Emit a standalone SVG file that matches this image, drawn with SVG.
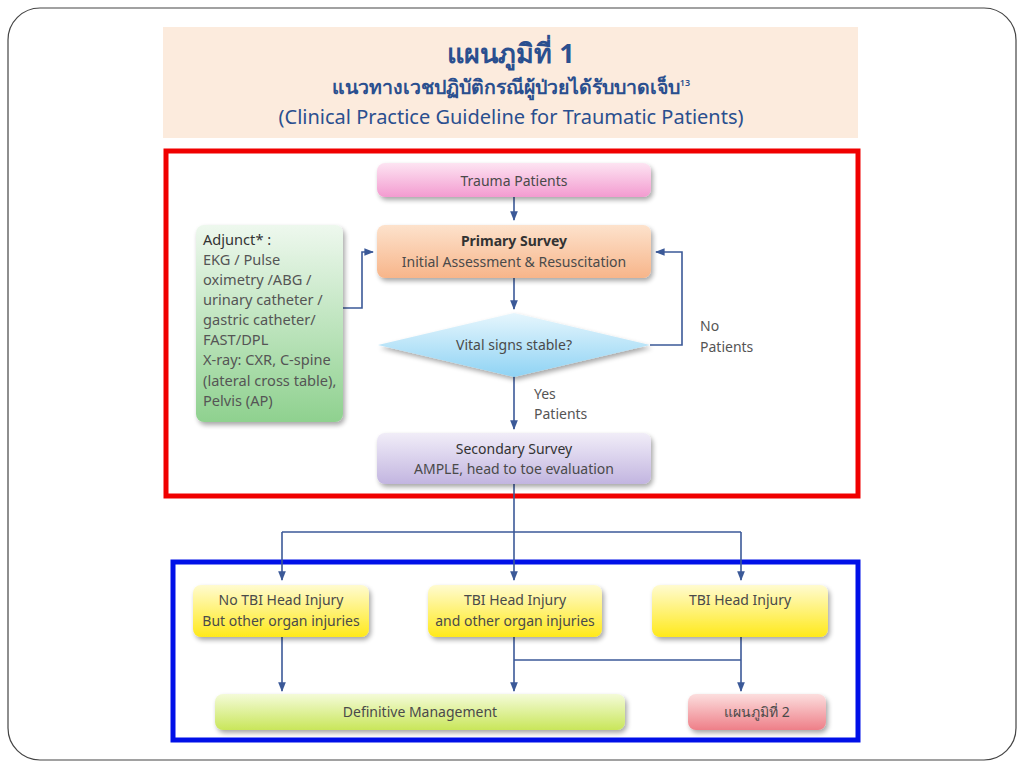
<svg xmlns="http://www.w3.org/2000/svg" width="1024" height="768" viewBox="0 0 1024 768">
<defs>
<style>
.t{font-family:"Noto Sans","DejaVu Sans",sans-serif;fill:#4a4a4a;font-size:14px;text-anchor:middle}
.tl{font-family:"Noto Sans","DejaVu Sans",sans-serif;fill:#555;font-size:14px}
.ta{font-family:"Noto Sans","DejaVu Sans",sans-serif;fill:#555;font-size:14.6px}
.b{font-weight:bold;fill:#333}
.hd{font-family:"Noto Sans","DejaVu Sans",sans-serif;fill:#2a4f8f;text-anchor:middle}
.c{fill:none;stroke:#3b5998;stroke-width:1.6}
</style>
<marker id="ar" viewBox="0 0 10 10" refX="9" refY="5" markerWidth="6" markerHeight="6" orient="auto"><path d="M0,1 L10,5 L0,9 z" fill="#3b5998"/></marker>
<filter id="sh" x="-10%" y="-20%" width="125%" height="150%"><feGaussianBlur in="SourceAlpha" stdDeviation="2.5"/><feOffset dx="2" dy="3"/><feComponentTransfer><feFuncA type="linear" slope="0.35"/></feComponentTransfer><feMerge><feMergeNode/><feMergeNode in="SourceGraphic"/></feMerge></filter>
<linearGradient id="gPink" x1="0" y1="0" x2="0" y2="1"><stop offset="0" stop-color="#fde4f2"/><stop offset="1" stop-color="#f39bd0"/></linearGradient>
<linearGradient id="gOr" x1="0" y1="0" x2="0" y2="1"><stop offset="0" stop-color="#fde2cc"/><stop offset="1" stop-color="#f7b58a"/></linearGradient>
<linearGradient id="gBlue" x1="0" y1="0" x2="0" y2="1"><stop offset="0" stop-color="#e6f6fd"/><stop offset="1" stop-color="#8fd3f4"/></linearGradient>
<linearGradient id="gLav" x1="0" y1="0" x2="0" y2="1"><stop offset="0" stop-color="#f1edf8"/><stop offset="1" stop-color="#c2b5e0"/></linearGradient>
<linearGradient id="gGr" x1="0" y1="0" x2="0" y2="1"><stop offset="0" stop-color="#eef8ee"/><stop offset="1" stop-color="#8fd18f"/></linearGradient>
<linearGradient id="gYel" x1="0" y1="0" x2="0" y2="1"><stop offset="0" stop-color="#fffbd0"/><stop offset="1" stop-color="#ffe91a"/></linearGradient>
<linearGradient id="gLime" x1="0" y1="0" x2="0" y2="1"><stop offset="0" stop-color="#f4fbd8"/><stop offset="1" stop-color="#c9e65a"/></linearGradient>
<linearGradient id="gRed" x1="0" y1="0" x2="0" y2="1"><stop offset="0" stop-color="#fcdede"/><stop offset="1" stop-color="#ee7f88"/></linearGradient>
</defs>
<rect width="1024" height="768" fill="#fff"/>
<rect x="8" y="8" width="1008" height="752" rx="32" fill="#fff" stroke="#444" stroke-width="1.2"/>

<g id="header">
<rect x="163" y="27" width="695" height="111" fill="#fcebdd"/>
<text class="hd" x="511" y="63" font-size="27" font-weight="bold">แผนภูมิที่ 1</text>
<text class="hd" x="511" y="94" font-size="19.5" font-weight="600">แนวทางเวชปฏิบัติกรณีผู้ป่วยได้รับบาดเจ็บ<tspan font-size="9" dy="-8">13</tspan></text>
<text class="hd" x="511" y="124" font-size="20">(Clinical Practice Guideline for Traumatic Patients)</text>
</g>

<rect id="redFrame" x="166" y="151" width="692" height="345" fill="none" stroke="#f00000" stroke-width="5"/>
<rect id="blueFrame" x="173" y="562" width="685" height="178" fill="none" stroke="#0010e8" stroke-width="5"/>

<g id="connectors">
<path class="c" d="M514,197 V220" marker-end="url(#ar)"/>
<path class="c" d="M514,278 V309" marker-end="url(#ar)"/>
<path class="c" d="M650,345 H682 V252 H656" marker-end="url(#ar)"/>
<path class="c" d="M514,375 V429" marker-end="url(#ar)"/>
<path class="c" d="M343,308 H362 V252 H373" marker-end="url(#ar)"/>
<path class="c" d="M514,484 V532"/>
<path class="c" d="M282,532 H741"/>
<path class="c" d="M282,532 V580" marker-end="url(#ar)"/>
<path class="c" d="M514,532 V580" marker-end="url(#ar)"/>
<path class="c" d="M741,532 V580" marker-end="url(#ar)"/>
<path class="c" d="M282,637 V691" marker-end="url(#ar)"/>
<path class="c" d="M514,637 V691" marker-end="url(#ar)"/>
<path class="c" d="M514,660 H741"/>
<path class="c" d="M741,637 V691" marker-end="url(#ar)"/>
</g>

<g id="trauma">
<rect x="377" y="163" width="274" height="34" rx="8" fill="url(#gPink)" filter="url(#sh)"/>
<text class="t" x="514" y="186">Trauma Patients</text>
</g>
<g id="primary">
<rect x="377" y="225" width="274" height="53" rx="8" fill="url(#gOr)" filter="url(#sh)"/>
<text class="t b" x="514" y="246">Primary Survey</text>
<text class="t" x="514" y="267">Initial Assessment &amp;  Resuscitation</text>
</g>
<g id="vital">
<polygon points="378,345 514,313 650,345 514,377" fill="url(#gBlue)" filter="url(#sh)"/>
<text class="t" x="514" y="350">Vital signs stable?</text>
</g>
<g id="noLabel">
<text class="tl" x="700" y="331">No</text>
<text class="tl" x="700" y="352">Patients</text>
</g>
<g id="yesLabel">
<text class="tl" x="534" y="399">Yes</text>
<text class="tl" x="534" y="419">Patients</text>
</g>
<g id="secondary">
<rect x="377" y="433" width="274" height="51" rx="8" fill="url(#gLav)" filter="url(#sh)"/>
<text class="t" x="514" y="454" style="fill:#333">Secondary Survey</text>
<text class="t" x="514" y="474">AMPLE, head to toe evaluation</text>
</g>
<g id="adjunct">
<rect x="196" y="225" width="147" height="197" rx="8" fill="url(#gGr)" filter="url(#sh)"/>
<text class="ta" x="203" y="245" style="fill:#333">Adjunct* :</text>
<text class="ta" x="203" y="265">EKG / Pulse</text>
<text class="ta" x="203" y="285">oximetry /ABG /</text>
<text class="ta" x="203" y="305">urinary catheter /</text>
<text class="ta" x="203" y="325">gastric catheter/</text>
<text class="ta" x="203" y="345">FAST/DPL</text>
<text class="ta" x="203" y="365">X-ray: CXR, C-spine</text>
<text class="ta" x="203" y="386">(lateral cross table),</text>
<text class="ta" x="203" y="406">Pelvis (AP)</text>
</g>
<g id="noTBI">
<rect x="193" y="585" width="176" height="52" rx="8" fill="url(#gYel)" filter="url(#sh)"/>
<text class="t" x="281" y="605">No TBI Head Injury</text>
<text class="t" x="281" y="626">But other organ injuries</text>
</g>
<g id="tbiOther">
<rect x="428" y="585" width="174" height="52" rx="8" fill="url(#gYel)" filter="url(#sh)"/>
<text class="t" x="515" y="605">TBI  Head Injury</text>
<text class="t" x="515" y="626">and other organ injuries</text>
</g>
<g id="tbi">
<rect x="652" y="585" width="176" height="52" rx="8" fill="url(#gYel)" filter="url(#sh)"/>
<text class="t" x="740" y="605">TBI Head Injury</text>
</g>
<g id="definitive">
<rect x="215" y="694" width="410" height="36" rx="8" fill="url(#gLime)" filter="url(#sh)"/>
<text class="t" x="420" y="717">Definitive  Management</text>
</g>
<g id="chart2">
<rect x="688" y="694" width="138" height="36" rx="8" fill="url(#gRed)" filter="url(#sh)"/>
<text class="t" x="757" y="717">แผนภูมิที่ 2</text>
</g>
</svg>
